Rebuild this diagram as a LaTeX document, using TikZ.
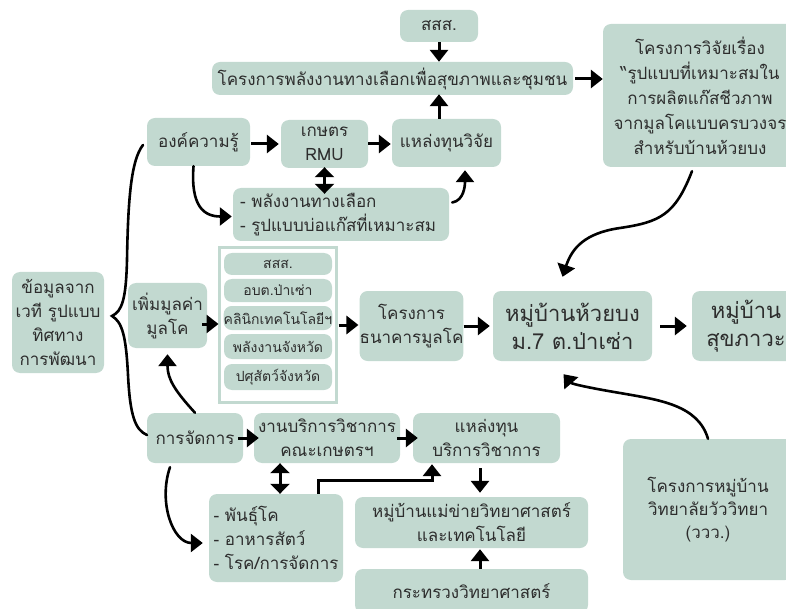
\documentclass[tikz,border=0pt]{standalone}
\usepackage{fontspec}
\setmainfont[Script=Thai]{Loma}
\usetikzlibrary{arrows.meta}
\definecolor{boxc}{RGB}{194,217,208}
\definecolor{txt}{RGB}{45,45,45}
\begin{document}
\begin{tikzpicture}[x=1pt,y=-1pt,
  bx/.style={rounded corners=8pt, fill=boxc, text=txt, inner sep=0pt, align=center,
    font=\fontsize{17}{24}\selectfont},
  pill/.style={bx, minimum width=108pt, font=\fontsize{14}{18}\selectfont},
  big/.style={font=\fontsize{22}{28}\selectfont},
  arr/.style={line width=3pt, -{Triangle[length=12pt,width=18pt]}},
  darr/.style={line width=3pt, {Triangle[length=10pt,width=19pt]}-{Triangle[length=10pt,width=19pt]}},
  curve/.style={line width=2.6pt, line cap=round},
  ]
\useasboundingbox (0,0) rectangle (786,609);
\clip (0,0) rectangle (786,609);
% boxes
\node[bx, minimum width=78pt, minimum height=32pt] (ss1) at (439,26) {สสส.};
\node[bx, minimum width=361pt, minimum height=33pt] (proj) at (392.5,78.5) {โครงการพลังงานทางเลือกเพื่อสุขภาพและชุมชน};
\node[bx, minimum width=194pt, minimum height=143pt, font=\fontsize{17}{25}\selectfont] (research) at (700,95.5)
  {โครงการวิจัยเรื่อง\\“รูปแบบที่เหมาะสมใน\\การผลิตแก๊สชีวภาพ\\จากมูลโคแบบครบวงจร\\สำหรับบ้านห้วยบง};
\node[bx, minimum width=103pt, minimum height=48pt] (know) at (198.5,142) {องค์ความรู้};
\node[bx, minimum width=87pt, minimum height=48pt] (rmu) at (324.5,144) {เกษตร\\RMU};
\node[bx, minimum width=109pt, minimum height=48pt] (fund) at (446.5,143) {แหล่งทุนวิจัย};
\node[bx, align=left, text width=202pt, inner xsep=7pt, minimum height=53pt] (alt) at (341,214.5)
  {- พลังงานทางเลือก\\- รูปแบบบ่อแก๊สที่เหมาะสม};
\node[draw=boxc, line width=3pt, minimum width=117pt, minimum height=154pt, inner sep=0pt] (cont) at (277.5,325) {};
\node[pill, minimum height=22pt] (p1) at (278,264) {สสส.};
\node[pill, minimum height=23pt] (p2) at (278,290.5) {อบต.ป่าเซ่า};
\node[pill, minimum height=24pt] (p3) at (278,318) {คลินิกเทคโนโลยีฯ};
\node[pill, minimum height=25pt] (p4) at (278,346.5) {พลังงานจังหวัด};
\node[pill, minimum height=26pt] (p5) at (278,377) {ปศุสัตว์จังหวัด};
\node[bx, minimum width=92pt, minimum height=101pt] (data) at (58,322.5) {ข้อมูลจาก\\เวที รูปแบบ\\ทิศทาง\\การพัฒนา};
\node[bx, minimum width=79pt, minimum height=65pt] (add) at (167.5,315.5) {เพิ่มมูลค่า\\มูลโค};
\node[bx, minimum width=103pt, minimum height=70pt] (bank) at (411.5,326) {โครงการ\\ธนาคารมูลโค};
\node[bx, big, minimum width=159pt, minimum height=70pt] (village) at (572.5,326) {หมู่บ้านห้วยบง\\ม.7 ต.ป่าเซ่า};
\node[bx, big, minimum width=108pt, minimum height=70pt] (healthy) at (746,326) {หมู่บ้าน\\สุขภาวะ};
\node[bx, minimum width=96pt, minimum height=50pt] (mgmt) at (195,438) {การจัดการ};
\node[bx, minimum width=146pt, minimum height=50pt] (service) at (327,438) {งานบริการวิชาการ\\คณะเกษตรฯ};
\node[bx, minimum width=147pt, minimum height=50pt] (sfund) at (486.5,438) {แหล่งทุน\\บริการวิชาการ};
\node[bx, align=left, minimum width=134pt, minimum height=88pt] (breed) at (276,538)
  {- พันธุ์โค\\- อาหารสัตว์\\- โรค/การจัดการ};
\node[bx, minimum width=233pt, minimum height=51pt] (hub) at (471.5,522.5) {หมู่บ้านแม่ข่ายวิทยาศาสตร์\\และเทคโนโลยี};
\node[bx, minimum width=233pt, minimum height=44pt] (ministry) at (471.5,591) {กระทรวงวิทยาศาสตร์};
\node[bx, minimum width=170pt, minimum height=141pt, font=\fontsize{17}{23}\selectfont] (vvv) at (708,509.5) {โครงการหมู่บ้าน\\วิทยาลัยวัววิทยา\\(ววว.)};
% straight arrows
\draw[arr] (ss1.south) -- (ss1.south |- proj.north);
\draw[arr, shorten <=2pt] (proj.east |- 0,79) -- (research.west |- 0,79);
\draw[arr] (fund.north -| ss1) -- ([yshift=1pt]proj.south -| ss1);
\draw[arr, shorten <=1pt, shorten >=2pt] (know.east |- 0,144) -- (rmu.west |- 0,144);
\draw[arr, shorten >=1pt] (rmu.east) -- (rmu.east -| fund.west);
\draw[darr, shorten <=-1pt, shorten >=-6pt] (rmu.south) -- (rmu.south |- alt.north);
\draw[arr, shorten <=-5pt, shorten >=-1pt] (add.east |- 0,324) -- (cont.west |- 0,324);
\draw[arr, shorten <=1pt, shorten >=1pt] (cont.east |- 0,325) -- (bank.west |- 0,325);
\draw[arr, shorten >=3pt] (bank.east) -- (village.west);
\draw[arr, shorten <=8pt, shorten >=5pt] (village.east) -- (healthy.west);
\draw[arr, shorten <=-5pt, shorten >=-5pt] (mgmt.east) -- (service.west);
\draw[arr, shorten <=-3pt, shorten >=-5pt] (service.east) -- (sfund.west);
\draw[darr] (service.south -| 280,0) -- (breed.north -| 280,0);
\draw[arr] (breed.north -| 318,0) -- (318,480) -- (432,480) -- ([yshift=-1pt]sfund.south -| 432,0);
\draw[arr, shorten <=5pt, shorten >=4pt] (sfund.south -| 480,0) -- (hub.north -| 480,0);
\draw[arr] (ministry.north -| 480,0) -- ([yshift=-1pt]hub.south -| 480,0);
% curved arrows
\draw[arr, curve] ([xshift=-5pt]know.south) .. controls +(-3,40) and +(-28,0) .. ([xshift=-1pt,yshift=-2pt]alt.west);
\draw[arr, curve] ([xshift=3pt,yshift=12pt]alt.east) .. controls +(12,-2) and +(0,15) .. ([xshift=18.5pt,yshift=-3pt]fund.south);
\draw[arr, curve] ([xshift=-8pt,yshift=-4pt]research.south) .. controls (675,215) and (660,222) .. (620,228)
  .. controls (585,233) and (572,248) .. ([xshift=-10pt,yshift=14pt]village.north);
\draw[arr, curve] (vvv.north) .. controls (698,405) and (660,400) .. (620,393)
  .. controls (590,388) and (572,384) .. ([xshift=-9pt,yshift=-13pt]village.south);
\draw[arr, curve] (mgmt.north) .. controls +(-20,-22) and +(0,25) .. ([yshift=-6pt]add.south);
\draw[arr, curve] ([xshift=-25pt,yshift=-4pt]mgmt.south) .. controls +(-12,35) and +(-30,0) .. ([xshift=-6pt,yshift=-5pt]breed.west);
% brace
\draw[curve] (143,145) .. controls (131,160) and (128,200) .. (127,260)
  .. controls (126,300) and (122,311) .. (112,316)
  .. controls (122,322) and (126,335) .. (128,375)
  .. controls (130,415) and (135,430) .. (147,435);
\end{tikzpicture}
\end{document}
